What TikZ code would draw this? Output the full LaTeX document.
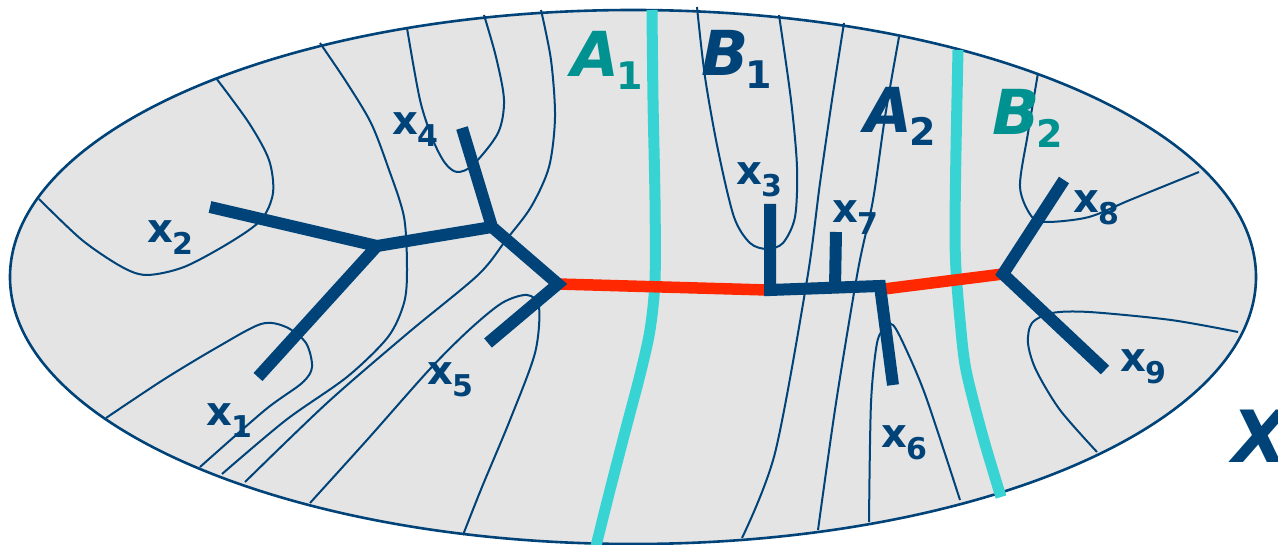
\documentclass[tikz,border=0pt]{standalone}
\usepackage{fontspec}
\setmainfont{DejaVu Sans}
\definecolor{navy}{RGB}{0,67,120}
\definecolor{tealt}{RGB}{0,145,145}
\definecolor{cyanl}{RGB}{56,212,212}
\definecolor{redl}{RGB}{255,40,0}
\definecolor{fillg}{RGB}{228,228,228}
\newcommand\xlab[1]{\bfseries\fontsize{40}{40}\selectfont x\kern-1pt\raisebox{-12pt}{\fontsize{30}{30}\selectfont #1}}
\newcommand\setlab[2]{\bfseries\fontsize{62}{62}\selectfont\itshape #1\kern-3pt\raisebox{-13pt}{\fontsize{38}{38}\selectfont\upshape #2}}
\begin{document}
\begin{tikzpicture}[x=1pt,y=-1pt,
  contour/.style={navy,line width=2pt},
  tree/.style={navy,line width=12pt,line cap=butt,line join=miter},
  cutline/.style={redl,line width=11.5pt,line cap=butt},
  sepline/.style={cyanl,line width=11pt},
  xl/.style={navy,inner sep=0pt,anchor=base west},
  sl/.style={inner sep=0pt,anchor=base west}]
\useasboundingbox (0,0) rectangle (1278,545);
\draw[navy,line width=2.6pt,fill=fillg] (633,277) ellipse [x radius=623, y radius=267];
% thin contour lines
\draw[contour] plot[smooth] coordinates {(39,199) (82,240) (122,267) (147,275) (184,267) (229,243) (261,220) (273,193) (269,160) (249,123) (216,78)};
\draw[contour] plot[smooth] coordinates {(320,43) (347,83) (371,123) (388,167) (404,217) (407,270) (404,303) (388,337) (347,377) (286,420) (222,474)};
\draw[contour] plot[smooth] coordinates {(407,28) (420,100) (433,140) (445,163) (457,172) (473,165) (498,133) (504,100) (496,57) (484,15)};
\draw[contour] plot[smooth] coordinates {(541,10) (551,60) (555,117) (549,167) (531,207) (506,240) (478,275) (408,333) (327,403) (245,482)};
\draw[contour] plot[smooth] coordinates {(106,418) (163,380) (216,348) (261,324) (286,327) (306,343) (312,367) (302,383) (265,410) (200,467)};
\draw[contour] plot[smooth] coordinates {(310,503) (367,440) (429,370) (469,330) (502,303) (527,295) (539,307) (535,353) (510,420) (482,487) (463,535)};
\draw[contour] plot[smooth] coordinates {(697,7) (705,77) (718,150) (734,217) (750,243) (767,249) (783,243) (795,217) (797,167) (791,100) (779,15)};
\draw[contour] plot[smooth] coordinates {(844,23) (832,100) (820,183) (807,280) (775,453) (742,538)};
\draw[contour] plot[smooth] coordinates {(899,37) (885,117) (873,200) (858,270) (836,403) (818,530)};
\draw[contour] plot[smooth] coordinates {(1038,73) (1028,133) (1020,187) (1032,217) (1048,222) (1089,217) (1130,200) (1199,172)};
\draw[contour] plot[smooth] coordinates {(869,522) (871,403) (877,343) (885,328) (893,325) (905,347) (926,397) (960,500)};
\draw[contour] plot[smooth] coordinates {(1238,332) (1171,320) (1089,312) (1052,313) (1032,323) (1028,343) (1036,370) (1060,410) (1097,452)};
% cyan separators
\draw[sepline] plot[smooth] coordinates {(652,10) (653,100) (655,200) (655,280) (650,330) (640,375) (625,432) (610,490) (596,546)};
\draw[sepline] plot[smooth] coordinates {(958,50) (956,150) (955,230) (956,270) (960,320) (966,370) (983,437) (1001,497)};
% tree coordinates
\coordinate (e2) at (210,207);
\coordinate (j1) at (377,246);
\coordinate (e1) at (258,377);
\coordinate (j2) at (492,227);
\coordinate (e4) at (462,128);
\coordinate (j3) at (558,284);
\coordinate (e5) at (488,343);
\coordinate (r1) at (767,290);
\coordinate (e3) at (770,204);
\coordinate (c3) at (770,290);
\coordinate (j5) at (880,286);
\coordinate (e7) at (836,232);
\coordinate (c7) at (835,288);
\coordinate (e6) at (893,385);
\coordinate (r2) at (884,289);
\coordinate (j4) at (1003,274);
\coordinate (e8) at (1064,180);
\coordinate (e9) at (1105,370);
% red cut edges
\draw[cutline] (j3) -- (r1);
\draw[cutline] (r2) -- (j4);
% tree
\draw[tree] (e2) -- (j1) -- (e1);
\draw[tree] (j1) -- (j2);
\draw[tree] (e4) -- (j2) -- (j3) -- (e5);
\draw[tree] (e3) -- (c3) -- (j5) -- (e6);
\draw[tree] (e7) -- (c7);
\draw[tree] (e8) -- (j4) -- (e9);
% labels
\node[xl] (l1) at (206,425) {\xlab{1}};
\node[xl] (l2) at (147,243) {\xlab{2}};
\node[xl] (l3) at (736,185) {\xlab{3}};
\node[xl] (l4) at (392,135) {\xlab{4}};
\node[xl] (l5) at (427,385) {\xlab{5}};
\node[xl] (l6) at (881,447) {\xlab{6}};
\node[xl] (l7) at (832,223) {\xlab{7}};
\node[xl] (l8) at (1073,213) {\xlab{8}};
\node[xl] (l9) at (1120,372) {\xlab{9}};
\node[sl,tealt] (la1) at (571,77) {\setlab{A}{1}};
\node[sl,navy] (lb1) at (701,76) {\setlab{B}{1}};
\node[sl,navy] (la2) at (864,133) {\setlab{A}{2}};
\node[sl,tealt] (lb2) at (992,135) {\setlab{B}{2}};
\node[sl,navy] (lx) at (1232,462) {\bfseries\fontsize{72}{72}\selectfont\itshape X};
\end{tikzpicture}
\end{document}
